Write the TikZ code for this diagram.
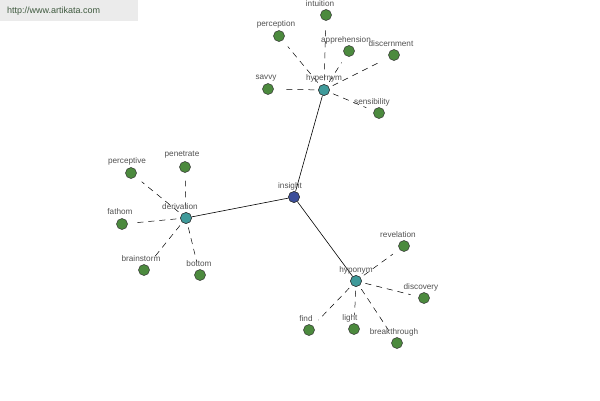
\documentclass[tikz,border=0pt]{standalone}
\usepackage{fontspec}
\setmainfont{Liberation Sans}
\begin{document}
\begin{tikzpicture}[x=1pt,y=-1pt,
  leaf/.style={circle,draw=black!80,fill=leafgreen,inner sep=0pt,minimum size=11pt,line width=0.5pt},
  hub/.style={circle,draw=black!80,fill=hubteal,inner sep=0pt,minimum size=11pt,line width=0.5pt},
  root/.style={circle,draw=black!80,fill=rootblue,inner sep=0pt,minimum size=11pt,line width=0.5pt},
  lbl/.style={font=\fontsize{8.2}{9}\selectfont,text=black!68,inner sep=0pt},
  dashedge/.style={dashed,dash pattern=on 6pt off 5pt,line width=0.5pt,shorten >=8pt,shorten <=4pt},
  solidedge/.style={line width=0.6pt}]
\definecolor{leafgreen}{HTML}{4C8A3E}
\definecolor{hubteal}{HTML}{3F9A9A}
\definecolor{rootblue}{HTML}{3C4E9A}
\definecolor{wmtext}{HTML}{3F5A3F}
\useasboundingbox (0,0) rectangle (600,400);
\fill[white] (0,0) rectangle (600,400);
% watermark
\fill[black!8] (0,0) rectangle (138,21);
\node[lbl,font=\fontsize{9}{10}\selectfont,text=wmtext,anchor=west] (wm) at (7,11) {http://www.artikata.com};
% main nodes
\node[root] (insight) at (294,197) {};
\node[hub] (hyper) at (324,90) {};
\node[hub] (deriv) at (186,218) {};
\node[hub] (hypo) at (356,281) {};
% leaves
\node[leaf] (intuition) at (326,15) {};
\node[leaf] (perception) at (279,36) {};
\node[leaf] (apprehension) at (349,51) {};
\node[leaf] (discernment) at (394,55) {};
\node[leaf] (savvy) at (268,89) {};
\node[leaf] (sensibility) at (379,113) {};
\node[leaf] (perceptive) at (131,173) {};
\node[leaf] (penetrate) at (185,167) {};
\node[leaf] (fathom) at (122,224) {};
\node[leaf] (brainstorm) at (144,270) {};
\node[leaf] (bottom) at (200,275) {};
\node[leaf] (revelation) at (404,246) {};
\node[leaf] (discovery) at (424,298) {};
\node[leaf] (find) at (309,330) {};
\node[leaf] (light) at (354,329) {};
\node[leaf] (breakthrough) at (397,343) {};
% edges
\draw[solidedge] (insight) -- (hyper);
\draw[solidedge] (insight) -- (deriv);
\draw[solidedge] (insight) -- (hypo);
\foreach \n in {intuition,perception,apprehension,discernment,savvy,sensibility}
  \draw[dashedge] (hyper) -- (\n);
\foreach \n in {perceptive,penetrate,fathom,brainstorm,bottom}
  \draw[dashedge] (deriv) -- (\n);
\foreach \n in {revelation,discovery,find,light,breakthrough}
  \draw[dashedge] (hypo) -- (\n);
% redraw nodes on top
\node[root] at (insight) {};
\node[hub] at (hyper) {};
\node[hub] at (deriv) {};
\node[hub] at (hypo) {};
% labels
\node[lbl] (l-insight) at (290,186) {insight};
\node[lbl] (l-hyper) at (324,78) {hypernym};
\node[lbl] (l-deriv) at (180,207) {derivation};
\node[lbl] (l-hypo) at (356,270) {hyponym};
\node[lbl] (l-intuition) at (320,4) {intuition};
\node[lbl] (l-perception) at (276,24) {perception};
\node[lbl] (l-apprehension) at (346,40) {apprehension};
\node[lbl] (l-discernment) at (391,44) {discernment};
\node[lbl] (l-savvy) at (266,78) {savvy};
\node[lbl] (l-sensibility) at (372,102) {sensibility};
\node[lbl] (l-perceptive) at (127,161) {perceptive};
\node[lbl] (l-penetrate) at (182,155) {penetrate};
\node[lbl] (l-fathom) at (120,212) {fathom};
\node[lbl] (l-brainstorm) at (141,259) {brainstorm};
\node[lbl] (l-bottom) at (199,264) {bottom};
\node[lbl] (l-revelation) at (398,235) {revelation};
\node[lbl] (l-discovery) at (421,287) {discovery};
\node[lbl] (l-find) at (306,319) {find};
\node[lbl] (l-light) at (350,318) {light};
\node[lbl] (l-breakthrough) at (394,332) {breakthrough};
\end{tikzpicture}
\end{document}
